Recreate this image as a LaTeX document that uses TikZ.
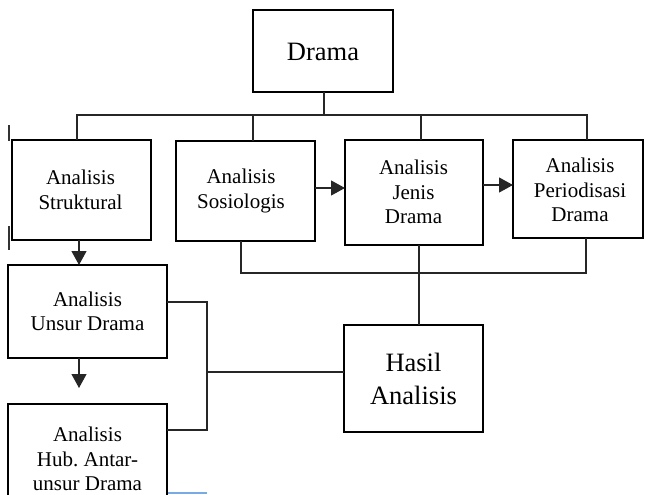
\documentclass[tikz,border=0pt]{standalone}
\usepackage{fontspec}
\setmainfont{Liberation Serif}
\usetikzlibrary{arrows.meta}
\frenchspacing
\begin{document}
\begin{tikzpicture}[x=1pt,y=-1pt,
  boxline/.style={draw=black,line width=2.6pt},
  conn/.style={draw=black!85,line width=1.1pt},
  arr/.style={conn,-{Triangle[length=14pt,width=15pt]}},
  lbl/.style={align=center,font=\fontsize{21}{24.5}\selectfont,inner sep=0pt},
  biglbl/.style={align=center,font=\fontsize{26.5}{33}\selectfont,inner sep=0pt},
  tick/.style={draw=black!80,line width=1.3pt}]
\useasboundingbox (0,0) rectangle (645,495);
\clip (0,0) rectangle (645,495);
% boxes
\draw[boxline] (253,10) rectangle (393,92);
\node[biglbl] (drama) at (323,52) {Drama};
\coordinate (dramab) at (324,92);
\draw[boxline] (12,140) rectangle (151,240);
\node[lbl] (strukt) at (80.5,190) {Analisis\\Struktural};
\draw[boxline] (176,141) rectangle (315,241);
\node[lbl] (sosio) at (241,191) {Analisis\\Sosiologis};
\draw[boxline] (345,140) rectangle (483,245);
\node[lbl] (jenis) at (413.5,192) {Analisis\\Jenis\\Drama};
\draw[boxline] (513,140) rectangle (643,238);
\node[lbl] (period) at (580,190) {Analisis\\Periodisasi\\Drama};
\draw[boxline] (8,265) rectangle (167,358);
\node[lbl] (unsur) at (87.5,311.5) {Analisis\\Unsur Drama};
\draw[boxline] (8,510) -- (8,404) -- (167,404) -- (167,510);
\node[lbl] (hub) at (87.5,459) {Analisis\\Hub. Antar-\\unsur Drama};
\draw[boxline] (344,325) rectangle (483,432);
\node[biglbl] (hasil) at (413.5,378.5) {Hasil\\Analisis};
% top bus
\coordinate (bus) at (324,115);
\draw[conn] (dramab) -- (bus);
\draw[conn] (77,140) -- (77,115) -- (587,115) -- (587,140);
\draw[conn] (253,115) -- (253,141);
\draw[conn] (421,115) -- (421,140);
% horizontal arrows
\draw[arr] (315,188) -- (345,188);
\draw[arr] (483,185) -- (513,185);
% left arrows
\draw[arr] (79,240) -- (79,265);
\coordinate (hubtip) at (79,388);
\draw[arr] (79,358) -- (hubtip);
% bottom bus
\draw[conn] (241,241) -- (241,273) -- (586,273) -- (586,238);
\draw[conn] (419,245) -- (419,325);
% bracket
\draw[conn] (167,302) -- (207,302) -- (207,430) -- (167,430);
\draw[conn] (207,372) -- (344,372);
% margin ticks and stray line
\draw[tick] (9,125) -- (9,141);
\draw[tick] (9,226) -- (9,250);
\draw[draw={rgb,255:red,120;green,170;blue,230},line width=1.2pt] (168,493) -- (207,493);
\end{tikzpicture}
\end{document}
